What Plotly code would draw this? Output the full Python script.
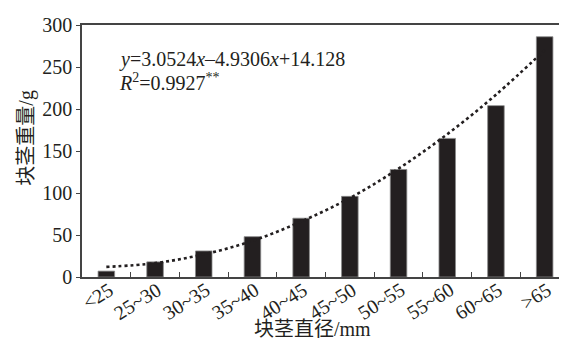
import plotly.graph_objects as go

categories = ["<25", "25~30", "30~35", "35~40", "40~45", "45~50", "50~55", "55~60", "60~65", ">65"]
weights = [7, 18, 31, 48, 70, 96, 128, 165, 204, 286]
# dotted trend curve at each category
trend = [12, 16.5, 27, 43, 66, 94, 129, 170, 217, 270]
y_ticks = [0, 50, 100, 150, 200, 250, 300]

ink = "#231f20"
serif = "Liberation Serif, Times New Roman, Noto Sans CJK SC, serif"

fig = go.Figure()
fig.add_trace(go.Scatter(
    x=categories, y=trend, mode="lines",
    line=dict(color=ink, width=2.6, dash="dot", shape="spline"),
    hoverinfo="skip", showlegend=False,
))
fig.add_trace(go.Bar(
    x=categories, y=weights, width=0.34,
    marker=dict(color=ink, line=dict(color="#8a8a8a", width=0.8)),
    showlegend=False,
))

fig.update_layout(
    width=567, height=349,
    margin=dict(l=74, r=6, t=17, b=80),
    paper_bgcolor="white", plot_bgcolor="white",
    font=dict(family=serif, size=20, color=ink),
    bargap=0.66,
)
fig.update_xaxes(
    type="category", range=[-0.5, 9.5],
    showline=True, linecolor="#444444", linewidth=1.5, mirror=True,
    ticks="inside", ticklen=5, tickwidth=1.2, tickcolor="#444444",
    tickson="boundaries", showticklabels=False,
    showgrid=False, zeroline=False,
)
fig.update_yaxes(
    range=[0, 300], tickvals=y_ticks,
    showline=True, linecolor="#444444", linewidth=1.5,
    ticks="outside", ticklen=4, tickwidth=1.2, tickcolor="#444444",
    tickfont=dict(family=serif, size=20, color=ink),
    showgrid=False, zeroline=False,
)

# rotated category labels
for c in categories:
    fig.add_annotation(
        x=c, xref="x", y=-0.03, yref="paper", xanchor="right", yanchor="top",
        xshift=13, yshift=9, text=c, textangle=-32, showarrow=False,
        font=dict(family=serif, size=20, color=ink),
    )

# axis titles
fig.add_annotation(
    x=0.474, xref="paper", y=-0.205, yref="paper", xanchor="center", yanchor="middle",
    text="块茎直径/mm", showarrow=False, font=dict(family=serif, size=20, color=ink),
)
fig.add_annotation(
    x=-0.1216, xref="paper", y=0.552, yref="paper", xanchor="center", yanchor="middle",
    xshift=4, text="块茎重量/g", textangle=-90, showarrow=False,
    font=dict(family=serif, size=20, color=ink),
)

fig.add_annotation(
    x=0.072, xref="paper", y=259, yref="y", xanchor="left", yanchor="middle",
    text="<i>y</i>=3.0524<i>x</i>–4.9306<i>x</i>+14.128", showarrow=False,
    font=dict(family=serif, size=20, color=ink),
)
fig.add_annotation(
    x=0.072, xref="paper", y=232, yref="y", xanchor="left", yanchor="middle",
    text="<i>R</i><sup>2</sup>=0.9927<sup>**</sup>", showarrow=False,
    font=dict(family=serif, size=20, color=ink),
)

fig.write_html("out.html")
